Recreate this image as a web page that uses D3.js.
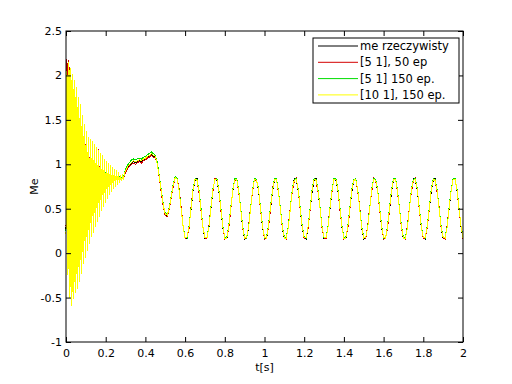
<!DOCTYPE html>
<html>
<head>
<meta charset="utf-8">
<script src="https://cdn.jsdelivr.net/npm/d3@7"></script>
<style>
  body { margin: 0; background: #fff; }
  text { font-family: "DejaVu Sans", sans-serif; }
</style>
</head>
<body>
<svg width="512" height="384"></svg>
<script>
// sample times: 0..0.295 every 0.005 s, then 0.30..2.00 every 0.01 s
var tEarly = d3.range(60).map(function(i){ return i*0.005; });
var tLate = d3.range(171).map(function(i){ return 0.3 + i*0.01; });
var t = tEarly.concat(tLate);

var seriesNames = ['me rzeczywisty', '[5 1], 50 ep', '[5 1] 150 ep.', '[10 1], 150 ep.'];
var seriesColors = ['#000000', '#d40000', '#00dd00', '#ffff00'];

var meReal = [
  0.27,2.0,-0.15,2.1,-0.4,2.02,-0.5,1.96,-0.44,1.89,-0.36,1.8,-0.3,1.7,-0.22,1.62,-0.15,1.5,-0.06,1.41,
  0.01,1.34,0.08,1.28,0.15,1.25,0.21,1.23,0.27,1.2,0.33,1.18,0.39,1.15,0.45,1.12,0.5,1.08,0.55,1.05,
  0.59,1.02,0.63,1.0,0.67,0.97,0.71,0.95,0.74,0.93,0.77,0.91,0.79,0.89,0.81,0.87,0.83,0.86,0.85,0.89,
  0.92,0.96,0.99,1.01,1.03,1.02,1.03,1.04,1.03,1.05,1.06,1.08,1.09,1.11,1.09,1.08,1.0,0.86,0.69,0.53,
  0.43,0.42,0.5,0.63,0.76,0.85,0.83,0.71,0.51,0.3,
  0.17,0.16,0.3,0.49,0.7,0.82,0.84,0.69,0.5,0.28,
  0.16,0.17,0.29,0.5,0.7,0.84,0.82,0.7,0.49,0.29,
  0.17,0.16,0.3,0.49,0.69,0.82,0.84,0.69,0.5,0.28,
  0.16,0.17,0.29,0.5,0.7,0.84,0.82,0.7,0.49,0.29,
  0.17,0.16,0.3,0.49,0.69,0.82,0.84,0.69,0.5,0.28,
  0.16,0.17,0.29,0.5,0.7,0.84,0.82,0.7,0.49,0.29,
  0.17,0.16,0.3,0.49,0.69,0.82,0.84,0.69,0.5,0.28,
  0.16,0.17,0.29,0.5,0.7,0.84,0.82,0.7,0.49,0.29,
  0.17,0.16,0.3,0.49,0.69,0.82,0.84,0.69,0.5,0.28,
  0.16,0.17,0.29,0.5,0.7,0.84,0.82,0.7,0.49,0.29,
  0.17,0.16,0.3,0.49,0.69,0.82,0.84,0.69,0.5,0.28,
  0.16,0.17,0.29,0.5,0.7,0.84,0.82,0.7,0.49,0.29,
  0.17,0.16,0.3,0.49,0.69,0.82,0.84,0.69,0.5,0.28,
  0.16,0.17,0.29,0.5,0.7,0.84,0.82,0.7,0.49,0.29,
  0.17
];

var net5x50 = [
  0.3,2.19,-0.1,2.17,-0.35,2.07,-0.45,2.0,-0.4,1.93,-0.3,1.85,-0.25,1.74,-0.18,1.66,-0.1,1.54,0.0,1.45,
  0.05,1.36,0.1,1.3,0.18,1.27,0.24,1.25,0.29,1.22,0.34,1.2,0.39,1.17,0.44,1.13,0.49,1.1,0.53,1.06,
  0.58,1.03,0.62,1.0,0.66,0.98,0.7,0.95,0.73,0.93,0.76,0.91,0.78,0.89,0.8,0.87,0.82,0.86,0.84,0.88,
  0.9,0.95,0.98,1.0,1.01,1.0,1.02,1.03,1.01,1.04,1.05,1.07,1.08,1.1,1.08,1.07,1.01,0.85,0.68,0.52,
  0.42,0.41,0.49,0.62,0.75,0.84,0.84,0.72,0.52,0.31,
  0.16,0.18,0.28,0.52,0.72,0.84,0.81,0.68,0.48,0.28,
  0.17,0.16,0.31,0.52,0.69,0.84,0.84,0.72,0.48,0.31,
  0.16,0.18,0.28,0.49,0.72,0.81,0.84,0.68,0.52,0.28,
  0.18,0.16,0.31,0.52,0.69,0.84,0.81,0.72,0.48,0.31,
  0.16,0.18,0.28,0.49,0.72,0.84,0.84,0.68,0.51,0.28,
  0.18,0.16,0.31,0.52,0.69,0.81,0.84,0.72,0.48,0.31,
  0.16,0.18,0.28,0.49,0.72,0.84,0.81,0.68,0.52,0.28,
  0.17,0.16,0.31,0.52,0.69,0.84,0.84,0.72,0.48,0.31,
  0.16,0.18,0.28,0.49,0.72,0.81,0.84,0.68,0.52,0.28,
  0.18,0.16,0.31,0.52,0.69,0.84,0.81,0.72,0.48,0.31,
  0.16,0.18,0.28,0.49,0.72,0.84,0.84,0.68,0.51,0.28,
  0.18,0.16,0.31,0.52,0.69,0.81,0.84,0.72,0.48,0.31,
  0.16,0.18,0.28,0.49,0.72,0.84,0.81,0.68,0.52,0.28,
  0.17,0.16,0.31,0.52,0.69,0.84,0.84,0.72,0.48,0.31,
  0.16
];

var net5x150 = [
  0.25,1.95,-0.2,2.05,-0.42,2.0,-0.5,1.9,-0.45,1.83,-0.38,1.75,-0.3,1.66,-0.22,1.58,-0.14,1.48,-0.05,1.4,
  0.02,1.33,0.08,1.27,0.15,1.24,0.21,1.22,0.27,1.19,0.33,1.17,0.38,1.14,0.44,1.11,0.49,1.08,0.54,1.05,
  0.59,1.02,0.63,1.0,0.67,0.97,0.71,0.95,0.74,0.93,0.77,0.91,0.79,0.9,0.81,0.88,0.83,0.87,0.86,0.91,
  0.95,0.99,1.02,1.05,1.06,1.05,1.06,1.07,1.06,1.08,1.09,1.11,1.12,1.14,1.12,1.1,1.02,0.87,0.71,0.55,
  0.45,0.44,0.51,0.64,0.78,0.86,0.84,0.71,0.5,0.3,
  0.18,0.17,0.31,0.51,0.72,0.84,0.83,0.71,0.51,0.3,
  0.17,0.18,0.3,0.52,0.72,0.83,0.84,0.72,0.51,0.31,
  0.18,0.18,0.31,0.51,0.71,0.84,0.84,0.71,0.51,0.3,
  0.18,0.17,0.3,0.51,0.72,0.84,0.83,0.72,0.51,0.31,
  0.17,0.18,0.31,0.52,0.71,0.84,0.84,0.71,0.5,0.3,
  0.18,0.18,0.3,0.51,0.72,0.83,0.84,0.72,0.51,0.31,
  0.18,0.17,0.31,0.51,0.72,0.84,0.83,0.71,0.51,0.3,
  0.17,0.18,0.3,0.52,0.71,0.84,0.84,0.72,0.51,0.31,
  0.18,0.18,0.31,0.51,0.72,0.83,0.84,0.71,0.5,0.3,
  0.18,0.17,0.3,0.51,0.72,0.84,0.83,0.72,0.51,0.31,
  0.17,0.18,0.31,0.52,0.71,0.84,0.84,0.71,0.51,0.3,
  0.18,0.18,0.3,0.51,0.72,0.83,0.84,0.72,0.51,0.31,
  0.18,0.17,0.31,0.51,0.72,0.84,0.83,0.71,0.5,0.3,
  0.17,0.18,0.3,0.52,0.71,0.84,0.84,0.72,0.51,0.31,
  0.18
];

var net10x150 = [
  0.22,2.05,-0.25,2.15,-0.5,2.08,-0.6,2.02,-0.52,1.95,-0.45,1.87,-0.4,1.76,-0.32,1.68,-0.23,1.56,-0.12,1.45,
  -0.05,1.38,0.02,1.31,0.1,1.28,0.18,1.26,0.23,1.23,0.29,1.2,0.35,1.16,0.41,1.13,0.47,1.1,0.52,1.06,
  0.57,1.04,0.61,1.01,0.65,0.99,0.69,0.97,0.72,0.95,0.75,0.93,0.77,0.91,0.79,0.88,0.81,0.87,0.84,0.9,
  0.93,0.97,1.0,1.02,1.04,1.03,1.04,1.05,1.04,1.06,1.07,1.09,1.1,1.12,1.1,1.09,1.0,0.86,0.7,0.54,
  0.44,0.43,0.5,0.63,0.77,0.85,0.83,0.7,0.5,0.3,
  0.17,0.18,0.3,0.5,0.71,0.83,0.82,0.7,0.49,0.29,
  0.18,0.17,0.29,0.51,0.71,0.83,0.83,0.71,0.5,0.3,
  0.17,0.17,0.3,0.5,0.7,0.82,0.83,0.7,0.5,0.29,
  0.17,0.18,0.29,0.5,0.71,0.83,0.82,0.71,0.5,0.3,
  0.18,0.17,0.3,0.51,0.7,0.83,0.83,0.7,0.49,0.29,
  0.17,0.17,0.29,0.5,0.71,0.82,0.83,0.71,0.5,0.3,
  0.17,0.18,0.3,0.5,0.71,0.83,0.82,0.7,0.5,0.29,
  0.18,0.17,0.29,0.51,0.7,0.83,0.83,0.71,0.5,0.3,
  0.17,0.17,0.3,0.5,0.71,0.82,0.83,0.7,0.49,0.29,
  0.17,0.18,0.29,0.5,0.71,0.83,0.82,0.71,0.5,0.3,
  0.18,0.17,0.3,0.51,0.7,0.83,0.83,0.7,0.5,0.29,
  0.17,0.17,0.29,0.5,0.71,0.82,0.83,0.71,0.5,0.3,
  0.17,0.18,0.3,0.5,0.71,0.83,0.82,0.7,0.49,0.29,
  0.18,0.17,0.29,0.51,0.7,0.83,0.83,0.71,0.5,0.3,
  0.17
];

var xTicks = [0,0.2,0.4,0.6,0.8,1,1.2,1.4,1.6,1.8,2];
var xTickLabels = ['0','0.2','0.4','0.6','0.8','1','1.2','1.4','1.6','1.8','2'];
var yTicks = [-1,-0.5,0,0.5,1,1.5,2,2.5];
var yTickLabels = ['-1','-0.5','0','0.5','1','1.5','2','2.5'];

var svg = d3.select('svg');
svg.append('rect').attr('width',512).attr('height',384).attr('fill','#fff');

var axL=66, axR=463, axT=31, axB=342;
var x = d3.scaleLinear().domain([0,2]).range([axL,axR]);
var y = d3.scaleLinear().domain([-1,2.5]).range([axB,axT]);

// lines, drawn in legend order so yellow ends up on top; no antialiasing, like the matlab export
var allSeries = [meReal, net5x50, net5x150, net10x150];
var line = d3.line().x(function(d,i){ return x(t[i]); }).y(function(d){ return y(d); });
allSeries.forEach(function(s,k){
  svg.append('path').datum(s).attr('d',line).attr('fill','none')
    .attr('stroke',seriesColors[k]).attr('stroke-width',1).attr('shape-rendering','crispEdges');
});

// axes with inward ticks on all four sides
function xfmt(d,i){ return xTickLabels[i]; }
function yfmt(d,i){ return yTickLabels[i]; }
var gb = svg.append('g').attr('transform','translate(0,'+axB+')')
  .call(d3.axisBottom(x).tickValues(xTicks).tickFormat(xfmt).tickSizeInner(-5).tickSizeOuter(0).tickPadding(7));
var gt = svg.append('g').attr('transform','translate(0,'+axT+')')
  .call(d3.axisTop(x).tickValues(xTicks).tickFormat('').tickSizeInner(-5).tickSizeOuter(0));
var gl = svg.append('g').attr('transform','translate('+axL+',0)')
  .call(d3.axisLeft(y).tickValues(yTicks).tickFormat(yfmt).tickSizeInner(-5).tickSizeOuter(0).tickPadding(4));
var gr = svg.append('g').attr('transform','translate('+axR+',0)')
  .call(d3.axisRight(y).tickValues(yTicks).tickFormat('').tickSizeInner(-5).tickSizeOuter(0));
[gb,gt,gl,gr].forEach(function(g){
  g.select('.domain').remove();
  g.selectAll('line').attr('stroke','#000');
  g.selectAll('text').attr('fill','#000').style('font-size','11px').style('font-family','DejaVu Sans');
});
svg.append('rect').attr('x',axL).attr('y',axT).attr('width',axR-axL).attr('height',axB-axT)
  .attr('fill','none').attr('stroke','#000').attr('stroke-width',1);

// axis labels
svg.append('text').attr('x',(axL+axR)/2).attr('y',371).attr('text-anchor','middle')
  .style('font-size','11px').text('t[s]');
svg.append('text').attr('transform','translate(38,'+((axT+axB)/2)+') rotate(-90)')
  .attr('text-anchor','middle').style('font-size','11px').text('Me');

// legend
var lg = svg.append('g');
lg.append('rect').attr('x',313).attr('y',38).attr('width',146).attr('height',65)
  .attr('fill','#fff').attr('stroke','#000').attr('stroke-width',1);
seriesNames.forEach(function(name,k){
  var ry = 46 + k*16.3;
  lg.append('line').attr('x1',318).attr('x2',358).attr('y1',ry).attr('y2',ry)
    .attr('stroke',seriesColors[k]).attr('stroke-width',1);
  lg.append('text').attr('x',360).attr('y',ry).attr('dy','0.35em')
    .style('font-size','11.5px').text(name);
});
</script>
</body>
</html>
